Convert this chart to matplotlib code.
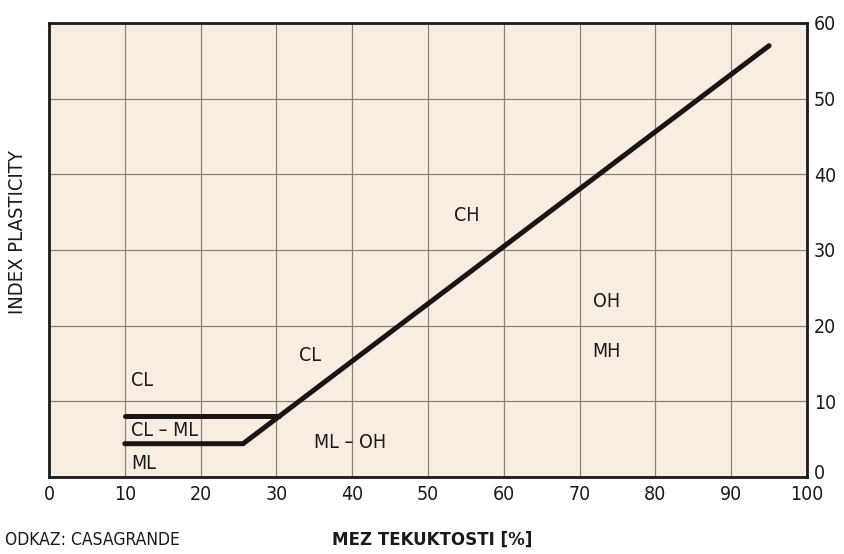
import matplotlib.pyplot as plt
from matplotlib.transforms import ScaledTranslation

# Casagrande plasticity chart
tick_x = [0, 10, 20, 30, 40, 50, 60, 70, 80, 90, 100]
tick_y = [0, 10, 20, 30, 40, 50, 60]

# A-line with the lower CL-ML boundary (liquid limit, plasticity index)
a_line_ll = [10, 25.6, 95]
a_line_pi = [4.4, 4.4, 57]
# upper CL-ML boundary
cl_ml_ll = [10, 30.4]
cl_ml_pi = [8, 8]

zones = ["CL", "CL – ML", "ML", "ML – OH", "CL", "CH", "OH", "MH"]
zone_ll = [10.8, 10.8, 10.8, 39.7, 33.0, 55.1, 73.5, 73.5]
zone_pi = [12.8, 6.2, 1.8, 4.5, 16.1, 34.5, 23.2, 16.6]
zone_ha = ["left", "left", "left", "center", "left", "center", "center", "center"]

plt.rcParams['font.family'] = ['DejaVu Sans']
plt.rcParams['font.stretch'] = 'condensed'

fig = plt.figure(figsize=(8.45, 5.54), dpi=100)
ax = fig.add_axes([0.058, 0.139, 0.897, 0.8195])
ax.set_facecolor('#f9ede1')

ax.set_xlim(0, 100)
ax.set_ylim(0, 60)
ax.set_xticks(tick_x)
ax.set_yticks(tick_y)
ax.grid(True, color='#8c8276', linewidth=0.9)
ax.set_axisbelow(True)
ax.yaxis.tick_right()
ax.tick_params(length=0, labelsize=14, colors='#1a1a1a', pad=6)
ax.tick_params(axis='y', pad=5)
for sp in ax.spines.values():
    sp.set_linewidth(2)
    sp.set_color('#1a1a1a')

# lift the "0" on the right so it clears the "100" below the corner
zero_lbl = ax.get_yticklabels()[0]
zero_lbl.set_transform(zero_lbl.get_transform() + ScaledTranslation(0, 4 / 72, fig.dpi_scale_trans))

ax.plot(a_line_ll, a_line_pi, color='#1a1414', linewidth=3.6, solid_capstyle='round', solid_joinstyle='miter')
ax.plot(cl_ml_ll, cl_ml_pi, color='#1a1414', linewidth=3.6, solid_capstyle='round')

for name, x, y, ha in zip(zones, zone_ll, zone_pi, zone_ha):
    ax.text(x, y, name, ha=ha, va='center', fontsize=14, color='#1a1a1a')

fig.text(0.021, 0.581, "INDEX PLASTICITY", rotation=90, ha='center', va='center',
         fontsize=14.5, color='#1a1a1a')
fig.text(0.512, 0.025, "MEZ TEKUKTOSTI [%]", ha='center', va='center',
         fontsize=13.3, fontweight='bold', color='#1a1a1a')
fig.text(0.006, 0.025, "ODKAZ: CASAGRANDE", ha='left', va='center',
         fontsize=12.5, color='#1a1a1a')

fig.savefig('out.png', dpi=100)
